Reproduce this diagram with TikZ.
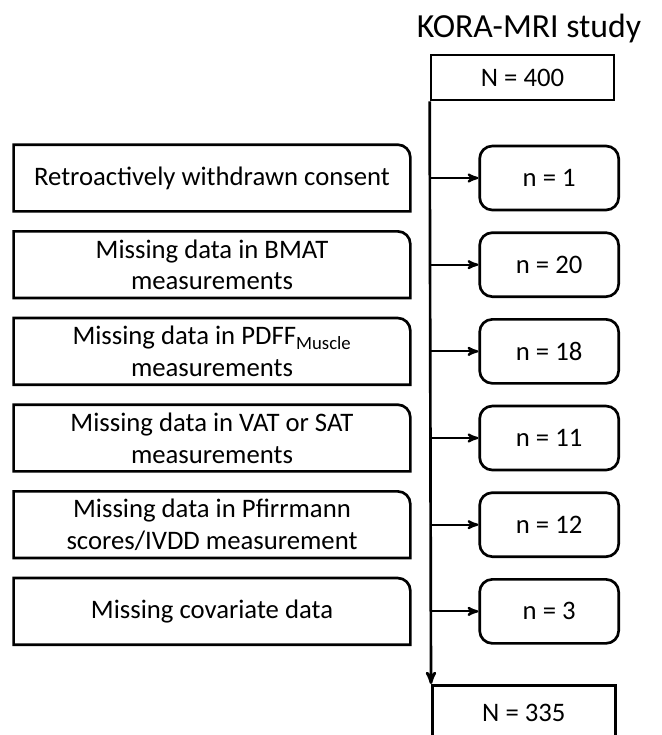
\documentclass[tikz,border=0pt]{standalone}
\usepackage{fontspec}
\setmainfont{Carlito}
\usetikzlibrary{positioning,arrows}

\begin{document}
\begin{tikzpicture}[>=stealth',node distance=0.5cm,line width=1.9pt,
    excl/.style={draw=none,minimum width=9.85cm,minimum height=1.6cm,inner sep=0pt,align=center,font=\fontsize{19}{22.5}\selectfont},
    cnt/.style={draw,rounded corners=9pt,minimum width=3.475cm,minimum height=1.6cm,font=\fontsize{19}{22.5}\selectfont},
    total/.style={draw,minimum width=4.575cm,minimum height=1.125cm,font=\fontsize{19}{22.5}\selectfont}]
%
   \useasboundingbox (0,0) rectangle (16.55,-18.375);
   \clip (0,0) rectangle (16.55,-18.375);
   \node[font=\fontsize{24}{28}\selectfont] (T) at (13.225,-0.7) {KORA-MRI study};
   \node[total]         (N0) at (13.0625,-1.9375) {N = 400};
%
   \node[excl]          (L1) at (5.3,-4.45) {Retroactively withdrawn consent};
   \node[excl]          (L2) [below=of L1] {Missing data in BMAT\\measurements};
   \node[excl]          (L3) [below=of L2] {Missing data in PDFF\textsubscript{Muscle}\\measurements};
   \node[excl]          (L4) [below=of L3] {Missing data in VAT or SAT\\measurements};
   \node[excl]          (L5) [below=of L4] {Missing data in Pfirrmann\\scores/IVDD measurement};
   \node[excl]          (L6) [below=of L5] {Missing covariate data};
%
   \node[cnt]           (n1) [right=1.7cm of L1] {n = 1};
   \node[cnt]           (n2) [right=1.7cm of L2] {n = 20};
   \node[cnt]           (n3) [right=1.7cm of L3] {n = 18};
   \node[cnt]           (n4) [right=1.7cm of L4] {n = 11};
   \node[cnt]           (n5) [right=1.7cm of L5] {n = 12};
   \node[cnt]           (n6) [right=1.7cm of L6] {n = 3};
%
   \node[total,minimum height=1.4cm,anchor=north west] (N1) at (10.775,-17.1) {N = 335};
%
   \draw (L1.south west) -- (L1.north west) [rounded corners=9pt] -- (L1.north east) [sharp corners] -- (L1.south east) -- cycle;
   \draw (L2.south west) -- (L2.north west) [rounded corners=9pt] -- (L2.north east) [sharp corners] -- (L2.south east) -- cycle;
   \draw (L3.south west) -- (L3.north west) [rounded corners=9pt] -- (L3.north east) [sharp corners] -- (L3.south east) -- cycle;
   \draw (L4.south west) -- (L4.north west) [rounded corners=9pt] -- (L4.north east) [sharp corners] -- (L4.south east) -- cycle;
   \draw (L5.south west) -- (L5.north west) [rounded corners=9pt] -- (L5.north east) [sharp corners] -- (L5.south east) -- cycle;
   \draw (L6.south west) -- (L6.north west) [rounded corners=9pt] -- (L6.north east) [sharp corners] -- (L6.south east) -- cycle;
%
   \draw[->] (N0.south west) -- (N1.north west);
   \draw[->,line width=1.6pt] (N0.south west |- n1) -- (n1);
   \draw[->,line width=1.6pt] (N0.south west |- n2) -- (n2);
   \draw[->,line width=1.6pt] (N0.south west |- n3) -- (n3);
   \draw[->,line width=1.6pt] (N0.south west |- n4) -- (n4);
   \draw[->,line width=1.6pt] (N0.south west |- n5) -- (n5);
   \draw[->,line width=1.6pt] (N0.south west |- n6) -- (n6);
\end{tikzpicture}
\end{document}
